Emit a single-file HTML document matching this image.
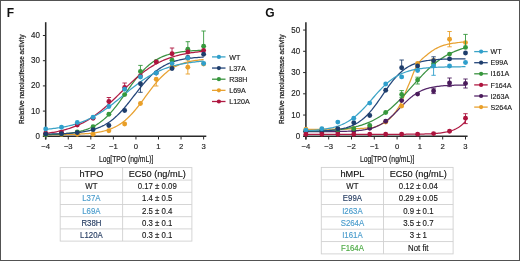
<!DOCTYPE html>
<html><head><meta charset="utf-8"><style>
html,body{margin:0;padding:0;background:#fff;}
body{width:520px;height:261px;overflow:hidden;}
svg{display:block;font-family:"Liberation Sans", sans-serif;}
</style></head><body>
<svg width="520" height="261" viewBox="0 0 520 261">
<rect x="0" y="0" width="520" height="261" fill="#fff"/>
<g style="filter:blur(0.45px)">
<line x1="45.7" y1="22.2" x2="45.7" y2="139.5" stroke="#2a2a2a" stroke-width="1.55"/>
<line x1="42.900000000000006" y1="136.3" x2="206.3" y2="136.3" stroke="#2a2a2a" stroke-width="1.45"/>
<line x1="42.900000000000006" y1="136.30" x2="45.7" y2="136.30" stroke="#2a2a2a" stroke-width="1"/>
<text transform="translate(39.90,138.75) scale(0.93,1)" font-size="8.6" text-anchor="end" fill="#222" stroke="#222" stroke-width="0.15">0</text>
<line x1="42.900000000000006" y1="111.10" x2="45.7" y2="111.10" stroke="#2a2a2a" stroke-width="1"/>
<text transform="translate(39.90,113.55) scale(0.93,1)" font-size="8.6" text-anchor="end" fill="#222" stroke="#222" stroke-width="0.15">10</text>
<line x1="42.900000000000006" y1="85.90" x2="45.7" y2="85.90" stroke="#2a2a2a" stroke-width="1"/>
<text transform="translate(39.90,88.35) scale(0.93,1)" font-size="8.6" text-anchor="end" fill="#222" stroke="#222" stroke-width="0.15">20</text>
<line x1="42.900000000000006" y1="60.70" x2="45.7" y2="60.70" stroke="#2a2a2a" stroke-width="1"/>
<text transform="translate(39.90,63.15) scale(0.93,1)" font-size="8.6" text-anchor="end" fill="#222" stroke="#222" stroke-width="0.15">30</text>
<line x1="42.900000000000006" y1="35.50" x2="45.7" y2="35.50" stroke="#2a2a2a" stroke-width="1"/>
<text transform="translate(39.90,37.95) scale(0.93,1)" font-size="8.6" text-anchor="end" fill="#222" stroke="#222" stroke-width="0.15">40</text>
<line x1="45.70" y1="136.3" x2="45.70" y2="139.5" stroke="#2a2a2a" stroke-width="1"/>
<text x="45.70" y="149.00" font-size="7.7" text-anchor="middle" fill="#222" stroke="#222" stroke-width="0.15">−4</text>
<line x1="68.26" y1="136.3" x2="68.26" y2="139.5" stroke="#2a2a2a" stroke-width="1"/>
<text x="68.26" y="149.00" font-size="7.7" text-anchor="middle" fill="#222" stroke="#222" stroke-width="0.15">−3</text>
<line x1="90.82" y1="136.3" x2="90.82" y2="139.5" stroke="#2a2a2a" stroke-width="1"/>
<text x="90.82" y="149.00" font-size="7.7" text-anchor="middle" fill="#222" stroke="#222" stroke-width="0.15">−2</text>
<line x1="113.38" y1="136.3" x2="113.38" y2="139.5" stroke="#2a2a2a" stroke-width="1"/>
<text x="113.38" y="149.00" font-size="7.7" text-anchor="middle" fill="#222" stroke="#222" stroke-width="0.15">−1</text>
<line x1="135.94" y1="136.3" x2="135.94" y2="139.5" stroke="#2a2a2a" stroke-width="1"/>
<text x="135.94" y="149.00" font-size="7.7" text-anchor="middle" fill="#222" stroke="#222" stroke-width="0.15">0</text>
<line x1="158.50" y1="136.3" x2="158.50" y2="139.5" stroke="#2a2a2a" stroke-width="1"/>
<text x="158.50" y="149.00" font-size="7.7" text-anchor="middle" fill="#222" stroke="#222" stroke-width="0.15">1</text>
<line x1="181.06" y1="136.3" x2="181.06" y2="139.5" stroke="#2a2a2a" stroke-width="1"/>
<text x="181.06" y="149.00" font-size="7.7" text-anchor="middle" fill="#222" stroke="#222" stroke-width="0.15">2</text>
<line x1="203.62" y1="136.3" x2="203.62" y2="139.5" stroke="#2a2a2a" stroke-width="1"/>
<text x="203.62" y="149.00" font-size="7.7" text-anchor="middle" fill="#222" stroke="#222" stroke-width="0.15">3</text>
<text transform="translate(24.2,79.2) rotate(-90)" font-size="8" text-anchor="middle" textLength="89.5" stroke="#222" stroke-width="0.25" lengthAdjust="spacingAndGlyphs" fill="#222">Relative nanoluciferase activity</text>
<text x="126.16" y="161.9" font-size="8.6" text-anchor="middle" textLength="54.5" lengthAdjust="spacingAndGlyphs" fill="#222" stroke="#222" stroke-width="0.2">Log[TPO (ng/mL)]</text>
<text x="6.7" y="16.8" font-size="12" font-weight="bold" fill="#111">F</text>
<line x1="305.9" y1="22.3" x2="305.9" y2="139.5" stroke="#2a2a2a" stroke-width="1.55"/>
<line x1="303.09999999999997" y1="136.3" x2="467.6" y2="136.3" stroke="#2a2a2a" stroke-width="1.45"/>
<line x1="303.09999999999997" y1="136.30" x2="305.9" y2="136.30" stroke="#2a2a2a" stroke-width="1"/>
<text transform="translate(300.10,138.75) scale(0.93,1)" font-size="8.6" text-anchor="end" fill="#222" stroke="#222" stroke-width="0.15">0</text>
<line x1="303.09999999999997" y1="115.05" x2="305.9" y2="115.05" stroke="#2a2a2a" stroke-width="1"/>
<text transform="translate(300.10,117.50) scale(0.93,1)" font-size="8.6" text-anchor="end" fill="#222" stroke="#222" stroke-width="0.15">10</text>
<line x1="303.09999999999997" y1="93.80" x2="305.9" y2="93.80" stroke="#2a2a2a" stroke-width="1"/>
<text transform="translate(300.10,96.25) scale(0.93,1)" font-size="8.6" text-anchor="end" fill="#222" stroke="#222" stroke-width="0.15">20</text>
<line x1="303.09999999999997" y1="72.55" x2="305.9" y2="72.55" stroke="#2a2a2a" stroke-width="1"/>
<text transform="translate(300.10,75.00) scale(0.93,1)" font-size="8.6" text-anchor="end" fill="#222" stroke="#222" stroke-width="0.15">30</text>
<line x1="303.09999999999997" y1="51.30" x2="305.9" y2="51.30" stroke="#2a2a2a" stroke-width="1"/>
<text transform="translate(300.10,53.75) scale(0.93,1)" font-size="8.6" text-anchor="end" fill="#222" stroke="#222" stroke-width="0.15">40</text>
<line x1="303.09999999999997" y1="30.05" x2="305.9" y2="30.05" stroke="#2a2a2a" stroke-width="1"/>
<text transform="translate(300.10,32.50) scale(0.93,1)" font-size="8.6" text-anchor="end" fill="#222" stroke="#222" stroke-width="0.15">50</text>
<line x1="305.90" y1="136.3" x2="305.90" y2="139.5" stroke="#2a2a2a" stroke-width="1"/>
<text x="305.90" y="149.00" font-size="7.7" text-anchor="middle" fill="#222" stroke="#222" stroke-width="0.15">−4</text>
<line x1="328.70" y1="136.3" x2="328.70" y2="139.5" stroke="#2a2a2a" stroke-width="1"/>
<text x="328.70" y="149.00" font-size="7.7" text-anchor="middle" fill="#222" stroke="#222" stroke-width="0.15">−3</text>
<line x1="351.50" y1="136.3" x2="351.50" y2="139.5" stroke="#2a2a2a" stroke-width="1"/>
<text x="351.50" y="149.00" font-size="7.7" text-anchor="middle" fill="#222" stroke="#222" stroke-width="0.15">−2</text>
<line x1="374.30" y1="136.3" x2="374.30" y2="139.5" stroke="#2a2a2a" stroke-width="1"/>
<text x="374.30" y="149.00" font-size="7.7" text-anchor="middle" fill="#222" stroke="#222" stroke-width="0.15">−1</text>
<line x1="397.10" y1="136.3" x2="397.10" y2="139.5" stroke="#2a2a2a" stroke-width="1"/>
<text x="397.10" y="149.00" font-size="7.7" text-anchor="middle" fill="#222" stroke="#222" stroke-width="0.15">0</text>
<line x1="419.90" y1="136.3" x2="419.90" y2="139.5" stroke="#2a2a2a" stroke-width="1"/>
<text x="419.90" y="149.00" font-size="7.7" text-anchor="middle" fill="#222" stroke="#222" stroke-width="0.15">1</text>
<line x1="442.70" y1="136.3" x2="442.70" y2="139.5" stroke="#2a2a2a" stroke-width="1"/>
<text x="442.70" y="149.00" font-size="7.7" text-anchor="middle" fill="#222" stroke="#222" stroke-width="0.15">2</text>
<line x1="465.50" y1="136.3" x2="465.50" y2="139.5" stroke="#2a2a2a" stroke-width="1"/>
<text x="465.50" y="149.00" font-size="7.7" text-anchor="middle" fill="#222" stroke="#222" stroke-width="0.15">3</text>
<text transform="translate(284.3,79.2) rotate(-90)" font-size="8" text-anchor="middle" textLength="89.5" stroke="#222" stroke-width="0.25" lengthAdjust="spacingAndGlyphs" fill="#222">Relative nanoluciferase activity</text>
<text x="387.20" y="161.9" font-size="8.6" text-anchor="middle" textLength="54.5" lengthAdjust="spacingAndGlyphs" fill="#222" stroke="#222" stroke-width="0.2">Log[TPO (ng/mL)]</text>
<text x="265.2" y="16.8" font-size="12" font-weight="bold" fill="#111">G</text>
<path d="M45.70,134.71 L47.03,134.71 L48.35,134.70 L49.68,134.69 L51.01,134.69 L52.34,134.68 L53.66,134.67 L54.99,134.66 L56.32,134.65 L57.64,134.63 L58.97,134.62 L60.30,134.60 L61.62,134.58 L62.95,134.57 L64.28,134.55 L65.61,134.52 L66.93,134.50 L68.26,134.47 L69.59,134.44 L70.91,134.41 L72.24,134.37 L73.57,134.33 L74.90,134.28 L76.22,134.24 L77.55,134.18 L78.88,134.12 L80.20,134.06 L81.53,133.99 L82.86,133.91 L84.18,133.83 L85.51,133.74 L86.84,133.63 L88.17,133.52 L89.49,133.40 L90.82,133.27 L92.15,133.12 L93.47,132.96 L94.80,132.78 L96.13,132.59 L97.46,132.38 L98.78,132.15 L100.11,131.90 L101.44,131.63 L102.76,131.33 L104.09,131.00 L105.42,130.65 L106.74,130.26 L108.07,129.84 L109.40,129.38 L110.73,128.89 L112.05,128.35 L113.38,127.78 L114.71,127.15 L116.03,126.47 L117.36,125.75 L118.69,124.96 L120.02,124.13 L121.34,123.23 L122.67,122.27 L124.00,121.25 L125.32,120.16 L126.65,119.01 L127.98,117.79 L129.30,116.50 L130.63,115.15 L131.96,113.74 L133.29,112.27 L134.61,110.74 L135.94,109.15 L137.27,107.51 L138.59,105.83 L139.92,104.11 L141.25,102.36 L142.58,100.58 L143.90,98.78 L145.23,96.98 L146.56,95.17 L147.88,93.37 L149.21,91.58 L150.54,89.82 L151.86,88.08 L153.19,86.38 L154.52,84.73 L155.85,83.12 L157.17,81.56 L158.50,80.06 L159.83,78.62 L161.15,77.25 L162.48,75.94 L163.81,74.69 L165.14,73.51 L166.46,72.40 L167.79,71.35 L169.12,70.36 L170.44,69.44 L171.77,68.58 L173.10,67.77 L174.42,67.02 L175.75,66.32 L177.08,65.68 L178.41,65.08 L179.73,64.53 L181.06,64.01 L182.39,63.54 L183.71,63.11 L185.04,62.71 L186.37,62.34 L187.70,62.00 L189.02,61.69 L190.35,61.41 L191.68,61.15 L193.00,60.91 L194.33,60.69 L195.66,60.49 L196.98,60.31 L198.31,60.14 L199.64,59.99 L200.97,59.85 L202.29,59.73 L203.62,59.61" fill="none" stroke="#e8a232" stroke-width="1.25"/>
<path d="M45.70,134.70 L47.03,134.67 L48.35,134.63 L49.68,134.58 L51.01,134.54 L52.34,134.48 L53.66,134.43 L54.99,134.37 L56.32,134.30 L57.64,134.23 L58.97,134.15 L60.30,134.06 L61.62,133.96 L62.95,133.86 L64.28,133.75 L65.61,133.62 L66.93,133.49 L68.26,133.34 L69.59,133.18 L70.91,133.01 L72.24,132.82 L73.57,132.62 L74.90,132.40 L76.22,132.15 L77.55,131.89 L78.88,131.61 L80.20,131.30 L81.53,130.96 L82.86,130.60 L84.18,130.21 L85.51,129.78 L86.84,129.32 L88.17,128.83 L89.49,128.29 L90.82,127.71 L92.15,127.09 L93.47,126.43 L94.80,125.71 L96.13,124.95 L97.46,124.13 L98.78,123.25 L100.11,122.32 L101.44,121.33 L102.76,120.27 L104.09,119.15 L105.42,117.97 L106.74,116.73 L108.07,115.42 L109.40,114.05 L110.73,112.61 L112.05,111.11 L113.38,109.55 L114.71,107.94 L116.03,106.27 L117.36,104.56 L118.69,102.80 L120.02,101.00 L121.34,99.17 L122.67,97.32 L124.00,95.45 L125.32,93.56 L126.65,91.67 L127.98,89.78 L129.30,87.91 L130.63,86.05 L131.96,84.21 L133.29,82.41 L134.61,80.64 L135.94,78.92 L137.27,77.24 L138.59,75.62 L139.92,74.05 L141.25,72.54 L142.58,71.10 L143.90,69.71 L145.23,68.39 L146.56,67.13 L147.88,65.94 L149.21,64.81 L150.54,63.74 L151.86,62.74 L153.19,61.79 L154.52,60.91 L155.85,60.08 L157.17,59.30 L158.50,58.58 L159.83,57.90 L161.15,57.27 L162.48,56.69 L163.81,56.15 L165.14,55.64 L166.46,55.18 L167.79,54.75 L169.12,54.35 L170.44,53.98 L171.77,53.64 L173.10,53.32 L174.42,53.03 L175.75,52.77 L177.08,52.52 L178.41,52.30 L179.73,52.09 L181.06,51.90 L182.39,51.72 L183.71,51.56 L185.04,51.41 L186.37,51.27 L187.70,51.15 L189.02,51.03 L190.35,50.93 L191.68,50.83 L193.00,50.74 L194.33,50.66 L195.66,50.59 L196.98,50.52 L198.31,50.46 L199.64,50.40 L200.97,50.35 L202.29,50.30 L203.62,50.25" fill="none" stroke="#3b9242" stroke-width="1.25"/>
<path d="M45.70,133.46 L47.03,133.29 L48.35,133.10 L49.68,132.91 L51.01,132.70 L52.34,132.49 L53.66,132.26 L54.99,132.02 L56.32,131.77 L57.64,131.50 L58.97,131.22 L60.30,130.92 L61.62,130.60 L62.95,130.27 L64.28,129.93 L65.61,129.56 L66.93,129.18 L68.26,128.77 L69.59,128.35 L70.91,127.90 L72.24,127.43 L73.57,126.94 L74.90,126.43 L76.22,125.89 L77.55,125.33 L78.88,124.74 L80.20,124.13 L81.53,123.48 L82.86,122.82 L84.18,122.12 L85.51,121.39 L86.84,120.64 L88.17,119.86 L89.49,119.04 L90.82,118.20 L92.15,117.33 L93.47,116.43 L94.80,115.49 L96.13,114.53 L97.46,113.54 L98.78,112.52 L100.11,111.48 L101.44,110.41 L102.76,109.31 L104.09,108.18 L105.42,107.03 L106.74,105.86 L108.07,104.67 L109.40,103.46 L110.73,102.23 L112.05,100.99 L113.38,99.73 L114.71,98.46 L116.03,97.18 L117.36,95.89 L118.69,94.59 L120.02,93.30 L121.34,92.00 L122.67,90.70 L124.00,89.41 L125.32,88.13 L126.65,86.85 L127.98,85.58 L129.30,84.33 L130.63,83.09 L131.96,81.86 L133.29,80.66 L134.61,79.47 L135.94,78.31 L137.27,77.16 L138.59,76.05 L139.92,74.96 L141.25,73.89 L142.58,72.85 L143.90,71.84 L145.23,70.86 L146.56,69.91 L147.88,68.98 L149.21,68.09 L150.54,67.23 L151.86,66.39 L153.19,65.59 L154.52,64.81 L155.85,64.07 L157.17,63.35 L158.50,62.66 L159.83,62.00 L161.15,61.37 L162.48,60.76 L163.81,60.18 L165.14,59.63 L166.46,59.09 L167.79,58.59 L169.12,58.10 L170.44,57.64 L171.77,57.20 L173.10,56.78 L174.42,56.39 L175.75,56.01 L177.08,55.65 L178.41,55.30 L179.73,54.98 L181.06,54.67 L182.39,54.38 L183.71,54.10 L185.04,53.83 L186.37,53.58 L187.70,53.35 L189.02,53.12 L190.35,52.91 L191.68,52.71 L193.00,52.52 L194.33,52.34 L195.66,52.17 L196.98,52.01 L198.31,51.85 L199.64,51.71 L200.97,51.57 L202.29,51.44 L203.62,51.32" fill="none" stroke="#b01c44" stroke-width="1.25"/>
<path d="M45.70,134.09 L47.03,134.07 L48.35,134.05 L49.68,134.03 L51.01,134.00 L52.34,133.97 L53.66,133.94 L54.99,133.91 L56.32,133.88 L57.64,133.84 L58.97,133.79 L60.30,133.75 L61.62,133.70 L62.95,133.64 L64.28,133.58 L65.61,133.52 L66.93,133.45 L68.26,133.37 L69.59,133.28 L70.91,133.19 L72.24,133.09 L73.57,132.98 L74.90,132.86 L76.22,132.73 L77.55,132.58 L78.88,132.43 L80.20,132.26 L81.53,132.08 L82.86,131.88 L84.18,131.66 L85.51,131.42 L86.84,131.17 L88.17,130.89 L89.49,130.59 L90.82,130.26 L92.15,129.91 L93.47,129.53 L94.80,129.12 L96.13,128.67 L97.46,128.19 L98.78,127.67 L100.11,127.12 L101.44,126.52 L102.76,125.87 L104.09,125.18 L105.42,124.45 L106.74,123.66 L108.07,122.82 L109.40,121.92 L110.73,120.97 L112.05,119.96 L113.38,118.90 L114.71,117.77 L116.03,116.59 L117.36,115.35 L118.69,114.05 L120.02,112.69 L121.34,111.28 L122.67,109.82 L124.00,108.30 L125.32,106.75 L126.65,105.15 L127.98,103.51 L129.30,101.85 L130.63,100.16 L131.96,98.45 L133.29,96.73 L134.61,95.00 L135.94,93.28 L137.27,91.56 L138.59,89.86 L139.92,88.18 L141.25,86.52 L142.58,84.90 L143.90,83.32 L145.23,81.78 L146.56,80.28 L147.88,78.84 L149.21,77.45 L150.54,76.11 L151.86,74.83 L153.19,73.61 L154.52,72.45 L155.85,71.35 L157.17,70.30 L158.50,69.32 L159.83,68.39 L161.15,67.51 L162.48,66.69 L163.81,65.92 L165.14,65.20 L166.46,64.53 L167.79,63.90 L169.12,63.32 L170.44,62.78 L171.77,62.27 L173.10,61.80 L174.42,61.37 L175.75,60.97 L177.08,60.60 L178.41,60.26 L179.73,59.94 L181.06,59.65 L182.39,59.38 L183.71,59.13 L185.04,58.90 L186.37,58.69 L187.70,58.50 L189.02,58.32 L190.35,58.16 L191.68,58.01 L193.00,57.87 L194.33,57.74 L195.66,57.62 L196.98,57.52 L198.31,57.42 L199.64,57.33 L200.97,57.25 L202.29,57.17 L203.62,57.10" fill="none" stroke="#24467a" stroke-width="1.25"/>
<path d="M45.70,129.32 L47.03,129.20 L48.35,129.07 L49.68,128.94 L51.01,128.80 L52.34,128.65 L53.66,128.49 L54.99,128.32 L56.32,128.14 L57.64,127.95 L58.97,127.75 L60.30,127.54 L61.62,127.31 L62.95,127.08 L64.28,126.83 L65.61,126.57 L66.93,126.29 L68.26,126.00 L69.59,125.69 L70.91,125.37 L72.24,125.03 L73.57,124.67 L74.90,124.29 L76.22,123.90 L77.55,123.48 L78.88,123.05 L80.20,122.59 L81.53,122.11 L82.86,121.61 L84.18,121.09 L85.51,120.54 L86.84,119.97 L88.17,119.38 L89.49,118.76 L90.82,118.11 L92.15,117.44 L93.47,116.75 L94.80,116.02 L96.13,115.28 L97.46,114.50 L98.78,113.70 L100.11,112.88 L101.44,112.03 L102.76,111.16 L104.09,110.26 L105.42,109.34 L106.74,108.39 L108.07,107.43 L109.40,106.45 L110.73,105.44 L112.05,104.42 L113.38,103.39 L114.71,102.34 L116.03,101.27 L117.36,100.20 L118.69,99.12 L120.02,98.03 L121.34,96.93 L122.67,95.84 L124.00,94.74 L125.32,93.64 L126.65,92.55 L127.98,91.46 L129.30,90.37 L130.63,89.30 L131.96,88.24 L133.29,87.19 L134.61,86.16 L135.94,85.14 L137.27,84.14 L138.59,83.15 L139.92,82.19 L141.25,81.25 L142.58,80.33 L143.90,79.44 L145.23,78.56 L146.56,77.72 L147.88,76.89 L149.21,76.10 L150.54,75.33 L151.86,74.58 L153.19,73.86 L154.52,73.17 L155.85,72.50 L157.17,71.86 L158.50,71.24 L159.83,70.65 L161.15,70.08 L162.48,69.53 L163.81,69.01 L165.14,68.51 L166.46,68.04 L167.79,67.58 L169.12,67.15 L170.44,66.73 L171.77,66.34 L173.10,65.97 L174.42,65.61 L175.75,65.27 L177.08,64.95 L178.41,64.64 L179.73,64.35 L181.06,64.08 L182.39,63.82 L183.71,63.57 L185.04,63.33 L186.37,63.11 L187.70,62.90 L189.02,62.70 L190.35,62.51 L191.68,62.33 L193.00,62.17 L194.33,62.01 L195.66,61.86 L196.98,61.71 L198.31,61.58 L199.64,61.45 L200.97,61.33 L202.29,61.22 L203.62,61.11" fill="none" stroke="#3aa3c6" stroke-width="1.25"/>
<circle cx="45.70" cy="134.71" r="2.45" fill="#e99f28"/>
<circle cx="61.49" cy="134.59" r="2.45" fill="#e99f28"/>
<circle cx="77.28" cy="134.19" r="2.45" fill="#e99f28"/>
<circle cx="93.08" cy="134.20" r="2.45" fill="#e99f28"/>
<circle cx="108.87" cy="130.70" r="2.45" fill="#e99f28"/>
<circle cx="124.66" cy="124.00" r="2.45" fill="#e99f28"/>
<circle cx="140.45" cy="103.50" r="2.45" fill="#e99f28"/>
<line x1="156.24" y1="79.20" x2="156.24" y2="86.00" stroke="#e99f28" stroke-width="0.9"/>
<line x1="154.04" y1="86.00" x2="158.44" y2="86.00" stroke="#e99f28" stroke-width="0.9"/>
<circle cx="156.24" cy="79.20" r="2.45" fill="#e99f28"/>
<circle cx="172.04" cy="66.50" r="2.45" fill="#e99f28"/>
<line x1="187.83" y1="60.00" x2="187.83" y2="74.00" stroke="#e99f28" stroke-width="0.9"/>
<line x1="185.63" y1="60.00" x2="190.03" y2="60.00" stroke="#e99f28" stroke-width="0.9"/>
<line x1="185.63" y1="74.00" x2="190.03" y2="74.00" stroke="#e99f28" stroke-width="0.9"/>
<circle cx="187.83" cy="67.30" r="2.45" fill="#e99f28"/>
<circle cx="203.62" cy="64.00" r="2.45" fill="#e99f28"/>
<circle cx="45.70" cy="134.70" r="2.45" fill="#36983c"/>
<circle cx="61.49" cy="133.97" r="2.45" fill="#36983c"/>
<circle cx="77.28" cy="131.95" r="2.45" fill="#36983c"/>
<circle cx="93.08" cy="126.63" r="2.45" fill="#36983c"/>
<circle cx="108.87" cy="114.20" r="2.45" fill="#36983c"/>
<circle cx="124.66" cy="94.60" r="2.45" fill="#36983c"/>
<line x1="140.45" y1="65.40" x2="140.45" y2="71.50" stroke="#36983c" stroke-width="0.9"/>
<line x1="138.25" y1="65.40" x2="142.65" y2="65.40" stroke="#36983c" stroke-width="0.9"/>
<circle cx="140.45" cy="71.50" r="2.45" fill="#36983c"/>
<circle cx="156.24" cy="61.50" r="2.45" fill="#36983c"/>
<circle cx="172.04" cy="60.30" r="2.45" fill="#36983c"/>
<line x1="187.83" y1="41.70" x2="187.83" y2="49.20" stroke="#36983c" stroke-width="0.9"/>
<line x1="185.63" y1="41.70" x2="190.03" y2="41.70" stroke="#36983c" stroke-width="0.9"/>
<circle cx="187.83" cy="49.20" r="2.45" fill="#36983c"/>
<line x1="203.62" y1="31.00" x2="203.62" y2="46.20" stroke="#36983c" stroke-width="0.9"/>
<line x1="201.42" y1="31.00" x2="205.82" y2="31.00" stroke="#36983c" stroke-width="0.9"/>
<circle cx="203.62" cy="46.20" r="2.45" fill="#36983c"/>
<circle cx="45.70" cy="133.20" r="2.45" fill="#ae143e"/>
<circle cx="61.49" cy="132.20" r="2.45" fill="#ae143e"/>
<circle cx="77.28" cy="125.00" r="2.45" fill="#ae143e"/>
<circle cx="93.08" cy="118.30" r="2.45" fill="#ae143e"/>
<line x1="108.87" y1="97.50" x2="108.87" y2="101.50" stroke="#ae143e" stroke-width="0.9"/>
<line x1="106.67" y1="97.50" x2="111.07" y2="97.50" stroke="#ae143e" stroke-width="0.9"/>
<circle cx="108.87" cy="101.50" r="2.45" fill="#ae143e"/>
<line x1="124.66" y1="83.00" x2="124.66" y2="87.40" stroke="#ae143e" stroke-width="0.9"/>
<line x1="122.46" y1="83.00" x2="126.86" y2="83.00" stroke="#ae143e" stroke-width="0.9"/>
<circle cx="124.66" cy="87.40" r="2.45" fill="#ae143e"/>
<circle cx="140.45" cy="76.00" r="2.45" fill="#ae143e"/>
<circle cx="156.24" cy="62.00" r="2.45" fill="#ae143e"/>
<line x1="172.04" y1="48.00" x2="172.04" y2="53.80" stroke="#ae143e" stroke-width="0.9"/>
<line x1="169.84" y1="48.00" x2="174.24" y2="48.00" stroke="#ae143e" stroke-width="0.9"/>
<circle cx="172.04" cy="53.80" r="2.45" fill="#ae143e"/>
<circle cx="187.83" cy="52.00" r="2.45" fill="#ae143e"/>
<circle cx="203.62" cy="50.50" r="2.45" fill="#ae143e"/>
<circle cx="45.70" cy="134.09" r="2.45" fill="#1e3d6b"/>
<circle cx="61.49" cy="133.70" r="2.45" fill="#1e3d6b"/>
<circle cx="77.28" cy="132.61" r="2.45" fill="#1e3d6b"/>
<circle cx="93.08" cy="129.65" r="2.45" fill="#1e3d6b"/>
<circle cx="108.87" cy="125.50" r="2.45" fill="#1e3d6b"/>
<circle cx="124.66" cy="110.50" r="2.45" fill="#1e3d6b"/>
<line x1="140.45" y1="83.80" x2="140.45" y2="92.30" stroke="#1e3d6b" stroke-width="0.9"/>
<line x1="138.25" y1="92.30" x2="142.65" y2="92.30" stroke="#1e3d6b" stroke-width="0.9"/>
<circle cx="140.45" cy="83.80" r="2.45" fill="#1e3d6b"/>
<circle cx="156.24" cy="73.00" r="2.45" fill="#1e3d6b"/>
<circle cx="172.04" cy="68.50" r="2.45" fill="#1e3d6b"/>
<circle cx="187.83" cy="57.50" r="2.45" fill="#1e3d6b"/>
<circle cx="203.62" cy="54.20" r="2.45" fill="#1e3d6b"/>
<circle cx="45.70" cy="129.00" r="2.45" fill="#2f9fcc"/>
<circle cx="61.49" cy="127.30" r="2.45" fill="#2f9fcc"/>
<circle cx="77.28" cy="122.50" r="2.45" fill="#2f9fcc"/>
<circle cx="93.08" cy="117.20" r="2.45" fill="#2f9fcc"/>
<circle cx="108.87" cy="106.50" r="2.45" fill="#2f9fcc"/>
<circle cx="124.66" cy="89.20" r="2.45" fill="#2f9fcc"/>
<circle cx="140.45" cy="77.00" r="2.45" fill="#2f9fcc"/>
<circle cx="156.24" cy="73.00" r="2.45" fill="#2f9fcc"/>
<circle cx="172.04" cy="63.60" r="2.45" fill="#2f9fcc"/>
<circle cx="187.83" cy="58.00" r="2.45" fill="#2f9fcc"/>
<circle cx="203.62" cy="63.50" r="2.45" fill="#2f9fcc"/>
<path d="M305.90,134.30 L307.24,134.30 L308.58,134.30 L309.92,134.30 L311.26,134.30 L312.61,134.30 L313.95,134.30 L315.29,134.30 L316.63,134.30 L317.97,134.30 L319.31,134.30 L320.65,134.30 L321.99,134.30 L323.34,134.30 L324.68,134.30 L326.02,134.30 L327.36,134.30 L328.70,134.30 L330.04,134.30 L331.38,134.30 L332.72,134.30 L334.06,134.30 L335.41,134.30 L336.75,134.30 L338.09,134.30 L339.43,134.30 L340.77,134.30 L342.11,134.30 L343.45,134.30 L344.79,134.30 L346.14,134.30 L347.48,134.30 L348.82,134.30 L350.16,134.30 L351.50,134.30 L352.84,134.30 L354.18,134.30 L355.52,134.30 L356.86,134.30 L358.21,134.30 L359.55,134.30 L360.89,134.30 L362.23,134.30 L363.57,134.30 L364.91,134.30 L366.25,134.30 L367.59,134.30 L368.94,134.30 L370.28,134.30 L371.62,134.30 L372.96,134.30 L374.30,134.30 L375.64,134.30 L376.98,134.30 L378.32,134.30 L379.66,134.29 L381.01,134.29 L382.35,134.29 L383.69,134.29 L385.03,134.29 L386.37,134.29 L387.71,134.29 L389.05,134.29 L390.39,134.29 L391.74,134.28 L393.08,134.28 L394.42,134.28 L395.76,134.28 L397.10,134.27 L398.44,134.27 L399.78,134.27 L401.12,134.26 L402.46,134.26 L403.81,134.25 L405.15,134.25 L406.49,134.24 L407.83,134.23 L409.17,134.22 L410.51,134.21 L411.85,134.20 L413.19,134.19 L414.54,134.18 L415.88,134.16 L417.22,134.14 L418.56,134.12 L419.90,134.10 L421.24,134.07 L422.58,134.04 L423.92,134.01 L425.26,133.97 L426.61,133.93 L427.95,133.88 L429.29,133.82 L430.63,133.76 L431.97,133.69 L433.31,133.61 L434.65,133.52 L435.99,133.42 L437.34,133.30 L438.68,133.17 L440.02,133.03 L441.36,132.86 L442.70,132.67 L444.04,132.46 L445.38,132.22 L446.72,131.95 L448.06,131.64 L449.41,131.30 L450.75,130.91 L452.09,130.47 L453.43,129.97 L454.77,129.40 L456.11,128.76 L457.45,128.04 L458.79,127.23 L460.14,126.31 L461.48,125.27 L462.82,124.09 L464.16,122.77 L465.50,121.26" fill="none" stroke="#b01c44" stroke-width="1.25"/>
<path d="M305.90,129.30 L307.24,129.30 L308.58,129.30 L309.92,129.30 L311.26,129.30 L312.61,129.29 L313.95,129.29 L315.29,129.29 L316.63,129.29 L317.97,129.28 L319.31,129.28 L320.65,129.28 L321.99,129.27 L323.34,129.27 L324.68,129.26 L326.02,129.26 L327.36,129.25 L328.70,129.25 L330.04,129.24 L331.38,129.23 L332.72,129.23 L334.06,129.22 L335.41,129.21 L336.75,129.20 L338.09,129.20 L339.43,129.19 L340.77,129.17 L342.11,129.15 L343.45,129.13 L344.79,129.10 L346.14,129.07 L347.48,129.04 L348.82,129.00 L350.16,128.96 L351.50,128.91 L352.84,128.86 L354.18,128.81 L355.52,128.75 L356.86,128.68 L358.21,128.61 L359.55,128.54 L360.89,128.46 L362.23,128.38 L363.57,128.29 L364.91,128.20 L366.25,128.10 L367.59,128.00 L368.94,127.89 L370.28,127.77 L371.62,127.60 L372.96,127.34 L374.30,127.01 L375.64,126.60 L376.98,126.13 L378.32,125.60 L379.66,125.02 L381.01,124.39 L382.35,123.71 L383.69,123.01 L385.03,122.27 L386.37,121.47 L387.71,120.49 L389.05,119.35 L390.39,118.05 L391.74,116.61 L393.08,115.04 L394.42,113.35 L395.76,111.55 L397.10,109.66 L398.44,107.69 L399.78,105.42 L401.12,102.76 L402.46,99.80 L403.81,96.64 L405.15,93.35 L406.49,90.04 L407.83,86.79 L409.17,83.68 L410.51,80.40 L411.85,76.93 L413.19,73.45 L414.54,70.14 L415.88,67.19 L417.22,64.77 L418.56,62.92 L419.90,61.30 L421.24,59.87 L422.58,58.57 L423.92,57.38 L425.26,56.26 L426.61,55.16 L427.95,54.07 L429.29,53.02 L430.63,52.02 L431.97,51.06 L433.31,50.16 L434.65,49.33 L435.99,48.57 L437.34,47.88 L438.68,47.23 L440.02,46.63 L441.36,46.09 L442.70,45.62 L444.04,45.21 L445.38,44.84 L446.72,44.49 L448.06,44.17 L449.41,43.88 L450.75,43.62 L452.09,43.39 L453.43,43.20 L454.77,43.01 L456.11,42.83 L457.45,42.65 L458.79,42.50 L460.14,42.35 L461.48,42.23 L462.82,42.13 L464.16,42.05 L465.50,41.99" fill="none" stroke="#e8a232" stroke-width="1.25"/>
<path d="M305.90,131.67 L307.24,131.67 L308.58,131.66 L309.92,131.66 L311.26,131.66 L312.61,131.66 L313.95,131.66 L315.29,131.65 L316.63,131.65 L317.97,131.65 L319.31,131.64 L320.65,131.64 L321.99,131.63 L323.34,131.63 L324.68,131.62 L326.02,131.62 L327.36,131.61 L328.70,131.60 L330.04,131.59 L331.38,131.58 L332.72,131.56 L334.06,131.55 L335.41,131.53 L336.75,131.51 L338.09,131.49 L339.43,131.47 L340.77,131.44 L342.11,131.41 L343.45,131.38 L344.79,131.34 L346.14,131.30 L347.48,131.25 L348.82,131.20 L350.16,131.14 L351.50,131.07 L352.84,130.99 L354.18,130.91 L355.52,130.81 L356.86,130.70 L358.21,130.58 L359.55,130.44 L360.89,130.29 L362.23,130.11 L363.57,129.92 L364.91,129.71 L366.25,129.46 L367.59,129.20 L368.94,128.90 L370.28,128.57 L371.62,128.20 L372.96,127.79 L374.30,127.34 L375.64,126.84 L376.98,126.29 L378.32,125.69 L379.66,125.03 L381.01,124.32 L382.35,123.54 L383.69,122.70 L385.03,121.79 L386.37,120.82 L387.71,119.78 L389.05,118.68 L390.39,117.52 L391.74,116.30 L393.08,115.04 L394.42,113.72 L395.76,112.37 L397.10,110.99 L398.44,109.60 L399.78,108.19 L401.12,106.78 L402.46,105.39 L403.81,104.01 L405.15,102.67 L406.49,101.36 L407.83,100.10 L409.17,98.89 L410.51,97.73 L411.85,96.64 L413.19,95.61 L414.54,94.65 L415.88,93.75 L417.22,92.92 L418.56,92.15 L419.90,91.44 L421.24,90.79 L422.58,90.20 L423.92,89.66 L425.26,89.16 L426.61,88.72 L427.95,88.32 L429.29,87.95 L430.63,87.62 L431.97,87.33 L433.31,87.07 L434.65,86.83 L435.99,86.62 L437.34,86.43 L438.68,86.26 L440.02,86.11 L441.36,85.97 L442.70,85.85 L444.04,85.74 L445.38,85.65 L446.72,85.56 L448.06,85.49 L449.41,85.42 L450.75,85.36 L452.09,85.31 L453.43,85.26 L454.77,85.22 L456.11,85.18 L457.45,85.15 L458.79,85.12 L460.14,85.09 L461.48,85.07 L462.82,85.05 L464.16,85.03 L465.50,85.01" fill="none" stroke="#55276a" stroke-width="1.25"/>
<path d="M305.90,131.53 L307.24,131.50 L308.58,131.47 L309.92,131.43 L311.26,131.39 L312.61,131.35 L313.95,131.30 L315.29,131.26 L316.63,131.20 L317.97,131.15 L319.31,131.09 L320.65,131.03 L321.99,130.96 L323.34,130.89 L324.68,130.82 L326.02,130.74 L327.36,130.65 L328.70,130.56 L330.04,130.46 L331.38,130.36 L332.72,130.25 L334.06,130.13 L335.41,130.00 L336.75,129.87 L338.09,129.72 L339.43,129.57 L340.77,129.41 L342.11,129.23 L343.45,129.05 L344.79,128.85 L346.14,128.64 L347.48,128.42 L348.82,128.19 L350.16,127.93 L351.50,127.67 L352.84,127.38 L354.18,127.08 L355.52,126.76 L356.86,126.42 L358.21,126.07 L359.55,125.68 L360.89,125.28 L362.23,124.86 L363.57,124.40 L364.91,123.93 L366.25,123.42 L367.59,122.89 L368.94,122.33 L370.28,121.74 L371.62,121.12 L372.96,120.46 L374.30,119.77 L375.64,119.05 L376.98,118.30 L378.32,117.50 L379.66,116.67 L381.01,115.81 L382.35,114.90 L383.69,113.96 L385.03,112.98 L386.37,111.96 L387.71,110.90 L389.05,109.80 L390.39,108.67 L391.74,107.50 L393.08,106.29 L394.42,105.05 L395.76,103.77 L397.10,102.46 L398.44,101.12 L399.78,99.76 L401.12,98.36 L402.46,96.95 L403.81,95.51 L405.15,94.05 L406.49,92.58 L407.83,91.10 L409.17,89.61 L410.51,88.11 L411.85,86.61 L413.19,85.11 L414.54,83.61 L415.88,82.13 L417.22,80.65 L418.56,79.18 L419.90,77.74 L421.24,76.31 L422.58,74.91 L423.92,73.53 L425.26,72.18 L426.61,70.85 L427.95,69.56 L429.29,68.30 L430.63,67.08 L431.97,65.89 L433.31,64.74 L434.65,63.62 L435.99,62.55 L437.34,61.51 L438.68,60.51 L440.02,59.55 L441.36,58.62 L442.70,57.74 L444.04,56.89 L445.38,56.08 L446.72,55.31 L448.06,54.57 L449.41,53.86 L450.75,53.19 L452.09,52.56 L453.43,51.95 L454.77,51.38 L456.11,50.83 L457.45,50.31 L458.79,49.82 L460.14,49.36 L461.48,48.92 L462.82,48.51 L464.16,48.12 L465.50,47.75" fill="none" stroke="#3b9242" stroke-width="1.25"/>
<path d="M305.90,131.30 L307.24,131.28 L308.58,131.26 L309.92,131.24 L311.26,131.22 L312.61,131.19 L313.95,131.16 L315.29,131.13 L316.63,131.09 L317.97,131.05 L319.31,131.01 L320.65,130.96 L321.99,130.90 L323.34,130.84 L324.68,130.77 L326.02,130.69 L327.36,130.61 L328.70,130.51 L330.04,130.41 L331.38,130.29 L332.72,130.16 L334.06,130.01 L335.41,129.85 L336.75,129.68 L338.09,129.48 L339.43,129.26 L340.77,129.02 L342.11,128.75 L343.45,128.46 L344.79,128.13 L346.14,127.77 L347.48,127.37 L348.82,126.94 L350.16,126.46 L351.50,125.93 L352.84,125.35 L354.18,124.72 L355.52,124.03 L356.86,123.28 L358.21,122.46 L359.55,121.58 L360.89,120.62 L362.23,119.58 L363.57,118.47 L364.91,117.28 L366.25,116.00 L367.59,114.65 L368.94,113.21 L370.28,111.69 L371.62,110.10 L372.96,108.43 L374.30,106.70 L375.64,104.90 L376.98,103.05 L378.32,101.16 L379.66,99.24 L381.01,97.28 L382.35,95.32 L383.69,93.36 L385.03,91.40 L386.37,89.47 L387.71,87.56 L389.05,85.70 L390.39,83.89 L391.74,82.14 L393.08,80.46 L394.42,78.85 L395.76,77.31 L397.10,75.85 L398.44,74.47 L399.78,73.18 L401.12,71.96 L402.46,70.83 L403.81,69.77 L405.15,68.79 L406.49,67.89 L407.83,67.05 L409.17,66.29 L410.51,65.58 L411.85,64.93 L413.19,64.34 L414.54,63.80 L415.88,63.31 L417.22,62.86 L418.56,62.46 L419.90,62.09 L421.24,61.75 L422.58,61.45 L423.92,61.18 L425.26,60.93 L426.61,60.70 L427.95,60.50 L429.29,60.32 L430.63,60.15 L431.97,60.01 L433.31,59.87 L434.65,59.75 L435.99,59.64 L437.34,59.54 L438.68,59.46 L440.02,59.38 L441.36,59.31 L442.70,59.24 L444.04,59.18 L445.38,59.13 L446.72,59.09 L448.06,59.04 L449.41,59.01 L450.75,58.97 L452.09,58.94 L453.43,58.92 L454.77,58.89 L456.11,58.87 L457.45,58.85 L458.79,58.83 L460.14,58.82 L461.48,58.80 L462.82,58.79 L464.16,58.78 L465.50,58.77" fill="none" stroke="#24467a" stroke-width="1.25"/>
<path d="M305.90,130.69 L307.24,130.63 L308.58,130.57 L309.92,130.50 L311.26,130.42 L312.61,130.34 L313.95,130.25 L315.29,130.15 L316.63,130.05 L317.97,129.93 L319.31,129.80 L320.65,129.65 L321.99,129.50 L323.34,129.33 L324.68,129.14 L326.02,128.94 L327.36,128.71 L328.70,128.47 L330.04,128.20 L331.38,127.91 L332.72,127.60 L334.06,127.25 L335.41,126.88 L336.75,126.47 L338.09,126.03 L339.43,125.55 L340.77,125.03 L342.11,124.47 L343.45,123.87 L344.79,123.22 L346.14,122.52 L347.48,121.78 L348.82,120.97 L350.16,120.12 L351.50,119.21 L352.84,118.24 L354.18,117.22 L355.52,116.14 L356.86,115.01 L358.21,113.81 L359.55,112.57 L360.89,111.27 L362.23,109.93 L363.57,108.54 L364.91,107.11 L366.25,105.64 L367.59,104.15 L368.94,102.63 L370.28,101.10 L371.62,99.56 L372.96,98.01 L374.30,96.47 L375.64,94.94 L376.98,93.43 L378.32,91.94 L379.66,90.48 L381.01,89.06 L382.35,87.68 L383.69,86.34 L385.03,85.06 L386.37,83.82 L387.71,82.64 L389.05,81.52 L390.39,80.45 L391.74,79.44 L393.08,78.48 L394.42,77.59 L395.76,76.74 L397.10,75.95 L398.44,75.22 L399.78,74.53 L401.12,73.89 L402.46,73.29 L403.81,72.74 L405.15,72.23 L406.49,71.76 L407.83,71.33 L409.17,70.93 L410.51,70.56 L411.85,70.22 L413.19,69.91 L414.54,69.63 L415.88,69.37 L417.22,69.13 L418.56,68.91 L419.90,68.71 L421.24,68.52 L422.58,68.36 L423.92,68.20 L425.26,68.06 L426.61,67.94 L427.95,67.82 L429.29,67.71 L430.63,67.62 L431.97,67.53 L433.31,67.45 L434.65,67.37 L435.99,67.31 L437.34,67.25 L438.68,67.19 L440.02,67.14 L441.36,67.10 L442.70,67.05 L444.04,67.02 L445.38,66.98 L446.72,66.95 L448.06,66.92 L449.41,66.90 L450.75,66.87 L452.09,66.85 L453.43,66.83 L454.77,66.81 L456.11,66.80 L457.45,66.78 L458.79,66.77 L460.14,66.76 L461.48,66.75 L462.82,66.74 L464.16,66.73 L465.50,66.72" fill="none" stroke="#3aa3c6" stroke-width="1.25"/>
<circle cx="305.90" cy="129.30" r="2.45" fill="#e99f28"/>
<circle cx="321.86" cy="129.27" r="2.45" fill="#e99f28"/>
<circle cx="337.82" cy="129.20" r="2.45" fill="#e99f28"/>
<circle cx="353.78" cy="128.82" r="2.45" fill="#e99f28"/>
<circle cx="369.74" cy="127.82" r="2.45" fill="#e99f28"/>
<circle cx="385.70" cy="122.00" r="2.45" fill="#e99f28"/>
<circle cx="401.66" cy="106.00" r="2.45" fill="#e99f28"/>
<circle cx="417.62" cy="63.50" r="2.45" fill="#e99f28"/>
<circle cx="433.58" cy="60.50" r="2.45" fill="#e99f28"/>
<line x1="449.54" y1="31.50" x2="449.54" y2="46.80" stroke="#e99f28" stroke-width="0.9"/>
<line x1="447.34" y1="31.50" x2="451.74" y2="31.50" stroke="#e99f28" stroke-width="0.9"/>
<line x1="447.34" y1="46.80" x2="451.74" y2="46.80" stroke="#e99f28" stroke-width="0.9"/>
<circle cx="449.54" cy="39.20" r="2.45" fill="#e99f28"/>
<circle cx="465.50" cy="42.60" r="2.45" fill="#e99f28"/>
<circle cx="305.90" cy="131.67" r="2.45" fill="#4a1b5b"/>
<circle cx="321.86" cy="131.63" r="2.45" fill="#4a1b5b"/>
<circle cx="337.82" cy="131.50" r="2.45" fill="#4a1b5b"/>
<circle cx="353.78" cy="130.93" r="2.45" fill="#4a1b5b"/>
<circle cx="369.74" cy="128.30" r="2.45" fill="#4a1b5b"/>
<circle cx="385.70" cy="121.31" r="2.45" fill="#4a1b5b"/>
<circle cx="401.66" cy="100.60" r="2.45" fill="#4a1b5b"/>
<circle cx="417.62" cy="94.10" r="2.45" fill="#4a1b5b"/>
<line x1="433.58" y1="88.20" x2="433.58" y2="93.60" stroke="#4a1b5b" stroke-width="0.9"/>
<line x1="431.38" y1="88.20" x2="435.78" y2="88.20" stroke="#4a1b5b" stroke-width="0.9"/>
<line x1="431.38" y1="93.60" x2="435.78" y2="93.60" stroke="#4a1b5b" stroke-width="0.9"/>
<circle cx="433.58" cy="90.90" r="2.45" fill="#4a1b5b"/>
<line x1="449.54" y1="78.00" x2="449.54" y2="86.60" stroke="#4a1b5b" stroke-width="0.9"/>
<line x1="447.34" y1="78.00" x2="451.74" y2="78.00" stroke="#4a1b5b" stroke-width="0.9"/>
<line x1="447.34" y1="86.60" x2="451.74" y2="86.60" stroke="#4a1b5b" stroke-width="0.9"/>
<circle cx="449.54" cy="82.90" r="2.45" fill="#4a1b5b"/>
<line x1="465.50" y1="79.00" x2="465.50" y2="88.00" stroke="#4a1b5b" stroke-width="0.9"/>
<line x1="463.30" y1="79.00" x2="467.70" y2="79.00" stroke="#4a1b5b" stroke-width="0.9"/>
<line x1="463.30" y1="88.00" x2="467.70" y2="88.00" stroke="#4a1b5b" stroke-width="0.9"/>
<circle cx="465.50" cy="83.40" r="2.45" fill="#4a1b5b"/>
<circle cx="305.90" cy="131.53" r="2.45" fill="#36983c"/>
<circle cx="321.86" cy="130.97" r="2.45" fill="#36983c"/>
<circle cx="337.82" cy="129.75" r="2.45" fill="#36983c"/>
<circle cx="353.78" cy="128.80" r="2.45" fill="#36983c"/>
<circle cx="369.74" cy="125.40" r="2.45" fill="#36983c"/>
<circle cx="385.70" cy="112.47" r="2.45" fill="#36983c"/>
<line x1="401.66" y1="90.60" x2="401.66" y2="97.40" stroke="#36983c" stroke-width="0.9"/>
<line x1="399.46" y1="90.60" x2="403.86" y2="90.60" stroke="#36983c" stroke-width="0.9"/>
<line x1="399.46" y1="97.40" x2="403.86" y2="97.40" stroke="#36983c" stroke-width="0.9"/>
<circle cx="401.66" cy="94.50" r="2.45" fill="#36983c"/>
<line x1="417.62" y1="77.20" x2="417.62" y2="84.00" stroke="#36983c" stroke-width="0.9"/>
<line x1="415.42" y1="77.20" x2="419.82" y2="77.20" stroke="#36983c" stroke-width="0.9"/>
<line x1="415.42" y1="84.00" x2="419.82" y2="84.00" stroke="#36983c" stroke-width="0.9"/>
<circle cx="417.62" cy="80.10" r="2.45" fill="#36983c"/>
<circle cx="433.58" cy="63.80" r="2.45" fill="#36983c"/>
<circle cx="449.54" cy="54.10" r="2.45" fill="#36983c"/>
<line x1="465.50" y1="34.40" x2="465.50" y2="47.40" stroke="#36983c" stroke-width="0.9"/>
<line x1="463.30" y1="34.40" x2="467.70" y2="34.40" stroke="#36983c" stroke-width="0.9"/>
<circle cx="465.50" cy="47.40" r="2.45" fill="#36983c"/>
<circle cx="305.90" cy="131.30" r="2.45" fill="#1e3d6b"/>
<circle cx="321.86" cy="130.91" r="2.45" fill="#1e3d6b"/>
<circle cx="337.82" cy="128.80" r="2.45" fill="#1e3d6b"/>
<circle cx="353.78" cy="122.80" r="2.45" fill="#1e3d6b"/>
<circle cx="369.74" cy="115.50" r="2.45" fill="#1e3d6b"/>
<circle cx="385.70" cy="90.30" r="2.45" fill="#1e3d6b"/>
<line x1="401.66" y1="60.00" x2="401.66" y2="67.70" stroke="#1e3d6b" stroke-width="0.9"/>
<line x1="399.46" y1="60.00" x2="403.86" y2="60.00" stroke="#1e3d6b" stroke-width="0.9"/>
<circle cx="401.66" cy="67.70" r="2.45" fill="#1e3d6b"/>
<circle cx="417.62" cy="66.00" r="2.45" fill="#1e3d6b"/>
<line x1="433.58" y1="56.80" x2="433.58" y2="60.60" stroke="#1e3d6b" stroke-width="0.9"/>
<line x1="431.38" y1="56.80" x2="435.78" y2="56.80" stroke="#1e3d6b" stroke-width="0.9"/>
<circle cx="433.58" cy="60.60" r="2.45" fill="#1e3d6b"/>
<circle cx="449.54" cy="58.90" r="2.45" fill="#1e3d6b"/>
<circle cx="465.50" cy="53.00" r="2.45" fill="#1e3d6b"/>
<circle cx="305.90" cy="130.10" r="2.45" fill="#2f9fcc"/>
<circle cx="321.86" cy="128.80" r="2.45" fill="#2f9fcc"/>
<circle cx="337.82" cy="122.10" r="2.45" fill="#2f9fcc"/>
<circle cx="353.78" cy="118.20" r="2.45" fill="#2f9fcc"/>
<circle cx="369.74" cy="103.10" r="2.45" fill="#2f9fcc"/>
<circle cx="385.70" cy="84.00" r="2.45" fill="#2f9fcc"/>
<circle cx="401.66" cy="76.90" r="2.45" fill="#2f9fcc"/>
<circle cx="417.62" cy="70.50" r="2.45" fill="#2f9fcc"/>
<line x1="433.58" y1="66.00" x2="433.58" y2="75.30" stroke="#2f9fcc" stroke-width="0.9"/>
<line x1="431.38" y1="75.30" x2="435.78" y2="75.30" stroke="#2f9fcc" stroke-width="0.9"/>
<circle cx="433.58" cy="66.00" r="2.45" fill="#2f9fcc"/>
<circle cx="449.54" cy="66.00" r="2.45" fill="#2f9fcc"/>
<circle cx="465.50" cy="62.50" r="2.45" fill="#2f9fcc"/>
<circle cx="305.90" cy="134.30" r="2.45" fill="#ae143e"/>
<circle cx="321.86" cy="134.30" r="2.45" fill="#ae143e"/>
<circle cx="337.82" cy="134.30" r="2.45" fill="#ae143e"/>
<circle cx="353.78" cy="134.30" r="2.45" fill="#ae143e"/>
<circle cx="369.74" cy="134.30" r="2.45" fill="#ae143e"/>
<circle cx="385.70" cy="134.29" r="2.45" fill="#ae143e"/>
<circle cx="401.66" cy="134.26" r="2.45" fill="#ae143e"/>
<circle cx="417.62" cy="134.13" r="2.45" fill="#ae143e"/>
<circle cx="433.58" cy="133.59" r="2.45" fill="#ae143e"/>
<circle cx="449.54" cy="131.26" r="2.45" fill="#ae143e"/>
<line x1="465.50" y1="113.7" x2="465.50" y2="123.6" stroke="#ae143e" stroke-width="0.9"/>
<line x1="463.30" y1="113.7" x2="467.70" y2="113.7" stroke="#ae143e" stroke-width="0.9"/>
<line x1="463.30" y1="123.6" x2="467.70" y2="123.6" stroke="#ae143e" stroke-width="0.9"/>
<circle cx="465.50" cy="118.30" r="2.45" fill="#ae143e"/>
<line x1="212.0" y1="56.90" x2="225.5" y2="56.90" stroke="#3aa3c6" stroke-width="1.3"/>
<circle cx="218.9" cy="56.90" r="2.1" fill="#2f9fcc"/>
<text x="229.20" y="59.50" font-size="7.1" fill="#222" stroke="#222" stroke-width="0.15">WT</text>
<line x1="212.0" y1="68.05" x2="225.5" y2="68.05" stroke="#24467a" stroke-width="1.3"/>
<circle cx="218.9" cy="68.05" r="2.1" fill="#1e3d6b"/>
<text x="229.20" y="70.65" font-size="7.1" fill="#222" stroke="#222" stroke-width="0.15">L37A</text>
<line x1="212.0" y1="79.20" x2="225.5" y2="79.20" stroke="#3b9242" stroke-width="1.3"/>
<circle cx="218.9" cy="79.20" r="2.1" fill="#36983c"/>
<text x="229.20" y="81.80" font-size="7.1" fill="#222" stroke="#222" stroke-width="0.15">R38H</text>
<line x1="212.0" y1="90.35" x2="225.5" y2="90.35" stroke="#e8a232" stroke-width="1.3"/>
<circle cx="218.9" cy="90.35" r="2.1" fill="#e99f28"/>
<text x="229.20" y="92.95" font-size="7.1" fill="#222" stroke="#222" stroke-width="0.15">L69A</text>
<line x1="212.0" y1="101.50" x2="225.5" y2="101.50" stroke="#b01c44" stroke-width="1.3"/>
<circle cx="218.9" cy="101.50" r="2.1" fill="#ae143e"/>
<text x="229.20" y="104.10" font-size="7.1" fill="#222" stroke="#222" stroke-width="0.15">L120A</text>
<line x1="474.2" y1="51.60" x2="487.7" y2="51.60" stroke="#3aa3c6" stroke-width="1.3"/>
<circle cx="481.09999999999997" cy="51.60" r="2.1" fill="#2f9fcc"/>
<text x="490.60" y="54.20" font-size="7.1" fill="#222" stroke="#222" stroke-width="0.15">WT</text>
<line x1="474.2" y1="62.70" x2="487.7" y2="62.70" stroke="#24467a" stroke-width="1.3"/>
<circle cx="481.09999999999997" cy="62.70" r="2.1" fill="#1e3d6b"/>
<text x="490.60" y="65.30" font-size="7.1" fill="#222" stroke="#222" stroke-width="0.15">E99A</text>
<line x1="474.2" y1="73.80" x2="487.7" y2="73.80" stroke="#3b9242" stroke-width="1.3"/>
<circle cx="481.09999999999997" cy="73.80" r="2.1" fill="#36983c"/>
<text x="490.60" y="76.40" font-size="7.1" fill="#222" stroke="#222" stroke-width="0.15">I161A</text>
<line x1="474.2" y1="84.90" x2="487.7" y2="84.90" stroke="#b01c44" stroke-width="1.3"/>
<circle cx="481.09999999999997" cy="84.90" r="2.1" fill="#ae143e"/>
<text x="490.60" y="87.50" font-size="7.1" fill="#222" stroke="#222" stroke-width="0.15">F164A</text>
<line x1="474.2" y1="96.00" x2="487.7" y2="96.00" stroke="#55276a" stroke-width="1.3"/>
<circle cx="481.09999999999997" cy="96.00" r="2.1" fill="#4a1b5b"/>
<text x="490.60" y="98.60" font-size="7.1" fill="#222" stroke="#222" stroke-width="0.15">I263A</text>
<line x1="474.2" y1="107.10" x2="487.7" y2="107.10" stroke="#e8a232" stroke-width="1.3"/>
<circle cx="481.09999999999997" cy="107.10" r="2.1" fill="#e99f28"/>
<text x="490.60" y="109.70" font-size="7.1" fill="#222" stroke="#222" stroke-width="0.15">S264A</text>
<rect x="60.2" y="167.6" width="131.7" height="73.5" fill="none" stroke="#d0d0d0" stroke-width="0.9"/>
<line x1="122.6" y1="167.6" x2="122.6" y2="241.1" stroke="#d0d0d0" stroke-width="0.9"/>
<line x1="60.2" y1="180.10" x2="191.89999999999998" y2="180.10" stroke="#d0d0d0" stroke-width="0.9"/>
<line x1="60.2" y1="192.30" x2="191.89999999999998" y2="192.30" stroke="#d0d0d0" stroke-width="0.9"/>
<line x1="60.2" y1="204.50" x2="191.89999999999998" y2="204.50" stroke="#d0d0d0" stroke-width="0.9"/>
<line x1="60.2" y1="216.70" x2="191.89999999999998" y2="216.70" stroke="#d0d0d0" stroke-width="0.9"/>
<line x1="60.2" y1="228.90" x2="191.89999999999998" y2="228.90" stroke="#d0d0d0" stroke-width="0.9"/>
<text x="91.40" y="176.75" font-size="9.2" text-anchor="middle" fill="#111" stroke="#111" stroke-width="0.15">hTPO</text>
<text x="157.25" y="176.75" font-size="9.2" text-anchor="middle" fill="#111" stroke="#111" stroke-width="0.15">EC50 (ng/mL)</text>
<text transform="translate(91.40,189.20) scale(0.93,1)" font-size="8.4" text-anchor="middle" fill="#1a1a1a" stroke="#1a1a1a" stroke-width="0.15">WT</text>
<text transform="translate(157.25,189.20) scale(0.93,1)" font-size="8.4" text-anchor="middle" fill="#1a1a1a" stroke="#1a1a1a" stroke-width="0.15">0.17 ± 0.09</text>
<text transform="translate(91.40,201.40) scale(0.93,1)" font-size="8.4" text-anchor="middle" fill="#4a9ccc" stroke="#4a9ccc" stroke-width="0.15">L37A</text>
<text transform="translate(157.25,201.40) scale(0.93,1)" font-size="8.4" text-anchor="middle" fill="#1a1a1a" stroke="#1a1a1a" stroke-width="0.15">1.4 ± 0.5</text>
<text transform="translate(91.40,213.60) scale(0.93,1)" font-size="8.4" text-anchor="middle" fill="#4a9ccc" stroke="#4a9ccc" stroke-width="0.15">L69A</text>
<text transform="translate(157.25,213.60) scale(0.93,1)" font-size="8.4" text-anchor="middle" fill="#1a1a1a" stroke="#1a1a1a" stroke-width="0.15">2.5 ± 0.4</text>
<text transform="translate(91.40,225.80) scale(0.93,1)" font-size="8.4" text-anchor="middle" fill="#263d62" stroke="#263d62" stroke-width="0.15">R38H</text>
<text transform="translate(157.25,225.80) scale(0.93,1)" font-size="8.4" text-anchor="middle" fill="#1a1a1a" stroke="#1a1a1a" stroke-width="0.15">0.3 ± 0.1</text>
<text transform="translate(91.40,238.00) scale(0.93,1)" font-size="8.4" text-anchor="middle" fill="#263d62" stroke="#263d62" stroke-width="0.15">L120A</text>
<text transform="translate(157.25,238.00) scale(0.93,1)" font-size="8.4" text-anchor="middle" fill="#1a1a1a" stroke="#1a1a1a" stroke-width="0.15">0.3 ± 0.1</text>
<rect x="321.3" y="167.4" width="131.8" height="86.5" fill="none" stroke="#d0d0d0" stroke-width="0.9"/>
<line x1="383.5" y1="167.4" x2="383.5" y2="253.9" stroke="#d0d0d0" stroke-width="0.9"/>
<line x1="321.3" y1="179.80" x2="453.1" y2="179.80" stroke="#d0d0d0" stroke-width="0.9"/>
<line x1="321.3" y1="192.15" x2="453.1" y2="192.15" stroke="#d0d0d0" stroke-width="0.9"/>
<line x1="321.3" y1="204.50" x2="453.1" y2="204.50" stroke="#d0d0d0" stroke-width="0.9"/>
<line x1="321.3" y1="216.85" x2="453.1" y2="216.85" stroke="#d0d0d0" stroke-width="0.9"/>
<line x1="321.3" y1="229.20" x2="453.1" y2="229.20" stroke="#d0d0d0" stroke-width="0.9"/>
<line x1="321.3" y1="241.55" x2="453.1" y2="241.55" stroke="#d0d0d0" stroke-width="0.9"/>
<text x="352.40" y="176.50" font-size="9.2" text-anchor="middle" fill="#111" stroke="#111" stroke-width="0.15">hMPL</text>
<text x="418.30" y="176.50" font-size="9.2" text-anchor="middle" fill="#111" stroke="#111" stroke-width="0.15">EC50 (ng/mL)</text>
<text transform="translate(352.40,188.98) scale(0.93,1)" font-size="8.4" text-anchor="middle" fill="#1a1a1a" stroke="#1a1a1a" stroke-width="0.15">WT</text>
<text transform="translate(418.30,188.98) scale(0.93,1)" font-size="8.4" text-anchor="middle" fill="#1a1a1a" stroke="#1a1a1a" stroke-width="0.15">0.12 ± 0.04</text>
<text transform="translate(352.40,201.33) scale(0.93,1)" font-size="8.4" text-anchor="middle" fill="#263d62" stroke="#263d62" stroke-width="0.15">E99A</text>
<text transform="translate(418.30,201.33) scale(0.93,1)" font-size="8.4" text-anchor="middle" fill="#1a1a1a" stroke="#1a1a1a" stroke-width="0.15">0.29 ± 0.05</text>
<text transform="translate(352.40,213.68) scale(0.93,1)" font-size="8.4" text-anchor="middle" fill="#4a9ccc" stroke="#4a9ccc" stroke-width="0.15">I263A</text>
<text transform="translate(418.30,213.68) scale(0.93,1)" font-size="8.4" text-anchor="middle" fill="#1a1a1a" stroke="#1a1a1a" stroke-width="0.15">0.9 ± 0.1</text>
<text transform="translate(352.40,226.03) scale(0.93,1)" font-size="8.4" text-anchor="middle" fill="#4a9ccc" stroke="#4a9ccc" stroke-width="0.15">S264A</text>
<text transform="translate(418.30,226.03) scale(0.93,1)" font-size="8.4" text-anchor="middle" fill="#1a1a1a" stroke="#1a1a1a" stroke-width="0.15">3.5 ± 0.7</text>
<text transform="translate(352.40,238.38) scale(0.93,1)" font-size="8.4" text-anchor="middle" fill="#4a9ccc" stroke="#4a9ccc" stroke-width="0.15">I161A</text>
<text transform="translate(418.30,238.38) scale(0.93,1)" font-size="8.4" text-anchor="middle" fill="#1a1a1a" stroke="#1a1a1a" stroke-width="0.15">3 ± 1</text>
<text transform="translate(352.40,250.73) scale(0.93,1)" font-size="8.4" text-anchor="middle" fill="#4daa45" stroke="#4daa45" stroke-width="0.15">F164A</text>
<text transform="translate(418.30,250.73) scale(0.93,1)" font-size="8.4" text-anchor="middle" fill="#1a1a1a" stroke="#1a1a1a" stroke-width="0.15">Not fit</text>
</g>
<rect x="0.5" y="0.5" width="519" height="260" fill="none" stroke="#525252" stroke-width="1"/>
</svg>
</body></html>
